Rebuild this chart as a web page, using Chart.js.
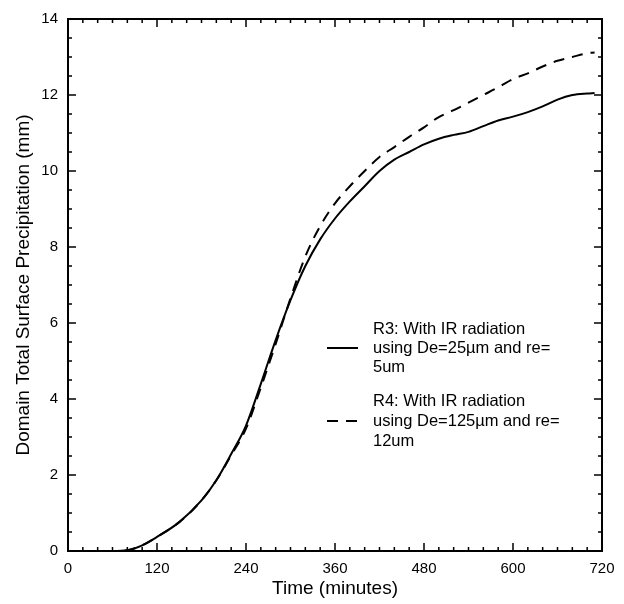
<!DOCTYPE html>
<html>
<head>
<meta charset="utf-8">
<script src="https://cdn.jsdelivr.net/npm/chart.js@4/dist/chart.umd.min.js"></script>
<style>
  html, body { margin: 0; padding: 0; background: #fff; }
  #wrap { width: 624px; height: 604px; }
</style>
</head>
<body>
<div id="wrap"><canvas id="precip" width="624" height="604"></canvas></div>
<script>
// time (minutes) and domain total surface precipitation (mm)
var tempos = [0, 60, 80, 100, 120, 150, 180, 200, 220, 240, 260, 280, 300, 320, 340, 360, 380, 400, 420, 440, 460, 480, 500, 520, 540, 560, 580, 600, 620, 640, 660, 680, 700, 710]
var r3 = [0, 0, 0.02, 0.15, 0.37, 0.76, 1.33, 1.86, 2.55, 3.3, 4.4, 5.55, 6.6, 7.5, 8.2, 8.75, 9.2, 9.6, 10.0, 10.3, 10.5, 10.7, 10.85, 10.95, 11.03, 11.18, 11.33, 11.43, 11.55, 11.7, 11.88, 12.0, 12.04, 12.05]
var r4 = [0, 0, 0.02, 0.15, 0.37, 0.76, 1.33, 1.86, 2.52, 3.22, 4.3, 5.45, 6.65, 7.75, 8.55, 9.15, 9.6, 10.0, 10.37, 10.63, 10.9, 11.15, 11.42, 11.6, 11.8, 12.0, 12.2, 12.42, 12.57, 12.75, 12.9, 13.0, 13.1, 13.12]
var xTicks = [0, 120, 240, 360, 480, 600, 720]
var yTicks = [0, 2, 4, 6, 8, 10, 12, 14]
var legenda = [
    ["R3: With IR radiation", "using De=25\u00b5m and re=", "5um"],
    ["R4: With IR radiation", "using De=125\u00b5m and re=", "12um"]
]

var FONTE = '"Liberation Sans", Arial, sans-serif'

function pontos(valores) {
    return tempos.map(function (t, i) { return { x: t, y: valores[i] } })
}

// frame, inward ticks on all sides and the legend inside the plot
var moldura = {
    id: 'moldura',
    afterDraw: function (chart) {
        var c = chart.ctx, a = chart.chartArea
        var sx = chart.scales.x, sy = chart.scales.y
        c.save()
        c.strokeStyle = '#000'
        c.lineWidth = 2
        c.strokeRect(a.left, a.top, a.right - a.left, a.bottom - a.top)
        c.lineWidth = 1.5
        c.beginPath()
        for (var t = 0; t <= 720; t += 20) {
            var px = sx.getPixelForValue(t)
            var len = (t % 120 === 0) ? 8 : 4
            c.moveTo(px, a.bottom); c.lineTo(px, a.bottom - len)
            c.moveTo(px, a.top); c.lineTo(px, a.top + len)
        }
        for (var v = 0; v <= 14; v += 0.5) {
            var py = sy.getPixelForValue(v)
            var l2 = (v % 2 === 0) ? 8 : 4
            c.moveTo(a.left, py); c.lineTo(a.left + l2, py)
            c.moveTo(a.right, py); c.lineTo(a.right - l2, py)
        }
        c.stroke()

        // legend
        c.font = '16.5px ' + FONTE
        c.fillStyle = '#000'
        c.textBaseline = 'middle'
        var x0 = a.left + 259, x1 = a.left + 290, xt = a.left + 305
        var linhas = [[329, 348, 367], [401, 421, 441]]
        legenda.forEach(function (txt, k) {
            txt.forEach(function (s, j) { c.fillText(s, xt, linhas[k][j]) })
            c.beginPath()
            c.lineWidth = 2
            c.setLineDash(k === 0 ? [] : [11, 8])
            c.moveTo(x0, linhas[k][1]); c.lineTo(x1, linhas[k][1])
            c.stroke()
        })
        c.restore()
    }
}

var ctx = document.getElementById('precip').getContext('2d')
var chartPrecip = new Chart(ctx, {
    type: 'line',
    data: {
        datasets: [{
            label: 'R3',
            data: pontos(r3),
            borderColor: '#000',
            borderWidth: 2,
            pointRadius: 0,
            cubicInterpolationMode: 'monotone'
        }, {
            label: 'R4',
            data: pontos(r4),
            borderColor: '#000',
            borderWidth: 2,
            borderDash: [11, 8],
            pointRadius: 0,
            cubicInterpolationMode: 'monotone'
        }]
    },
    options: {
        responsive: false,
        animation: false,
        layout: { padding: { top: 16, right: 22, left: 0, bottom: 0 } },
        plugins: { legend: { display: false }, tooltip: { enabled: false } },
        scales: {
            x: {
                type: 'linear',
                min: 0, max: 720,
                afterBuildTicks: function (s) { s.ticks = xTicks.map(function (v) { return { value: v } }) },
                afterFit: function (s) { s.height = 53 },
                grid: { display: false, drawTicks: false },
                border: { display: false },
                ticks: { color: '#000', padding: 9, font: { size: 15, family: FONTE } },
                title: { display: true, text: 'Time (minutes)', color: '#000', padding: { top: 1 }, font: { size: 19, family: FONTE } }
            },
            y: {
                min: 0, max: 14,
                afterBuildTicks: function (s) { s.ticks = yTicks.map(function (v) { return { value: v } }) },
                afterFit: function (s) { s.width = 68 },
                grid: { display: false, drawTicks: false },
                border: { display: false },
                ticks: { color: '#000', padding: 10, font: { size: 15, family: FONTE } },
                title: { display: true, text: 'Domain Total Surface Precipitation (mm)', color: '#000', padding: { top: 12, bottom: 0 }, font: { size: 19, family: FONTE } }
            }
        }
    },
    plugins: [moldura]
})
</script>
</body>
</html>
